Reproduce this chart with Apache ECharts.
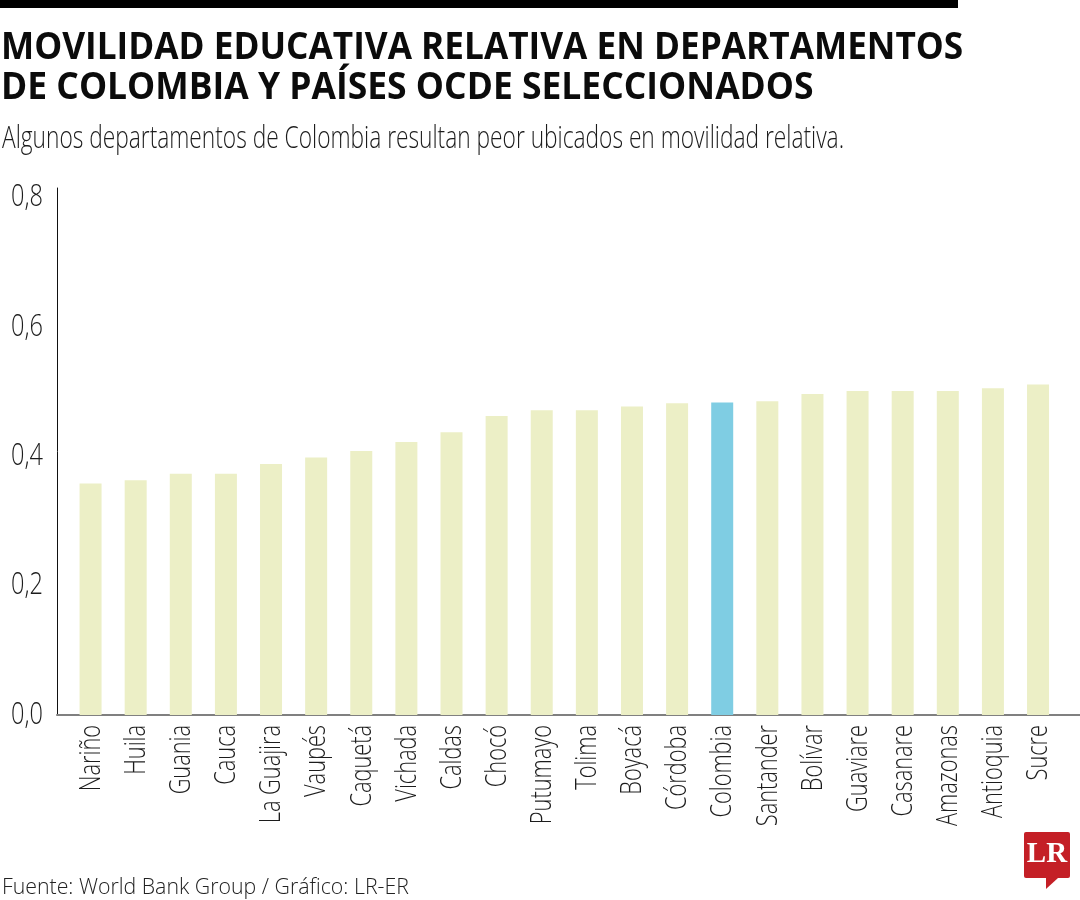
<!DOCTYPE html>
<html><head><meta charset="utf-8">
<style>html,body{margin:0;padding:0;background:#fff}#c{width:1080px;height:900px}</style>
<script src="https://cdn.jsdelivr.net/npm/echarts@6/dist/echarts.min.js"></script></head>
<body><div id="c"></div>
<script>
const categories = ['Nariño','Huila','Guania','Cauca','La Guajira','Vaupés','Caquetá','Vichada','Caldas','Chocó','Putumayo','Tolima','Boyacá','Córdoba','Colombia','Santander','Bolívar','Guaviare','Casanare','Amazonas','Antioquia','Sucre'];
const values = [0.358,0.363,0.373,0.373,0.388,0.398,0.408,0.422,0.437,0.462,0.471,0.471,0.477,0.482,0.483,0.485,0.496,0.501,0.501,0.501,0.505,0.511];
const highlighted = 'Colombia';
const yTicks = [0,0.2,0.4,0.6,0.8];
const yTickLabels = ['0,0','0,2','0,4','0,6','0,8'];
const titleLines = ['MOVILIDAD EDUCATIVA RELATIVA EN DEPARTAMENTOS','DE COLOMBIA Y PAÍSES OCDE SELECCIONADOS'];
const subtitleText = 'Algunos departamentos de Colombia resultan peor ubicados en movilidad relativa.';
const sourceText = 'Fuente: World Bank Group / Gráfico: LR-ER';
const lightFont = '300 29px "Open Sans",sans-serif';
const yMax = 0.8146;
const chart = echarts.init(document.getElementById('c'),null,{renderer:'canvas'});
function textEl(text,x,y,font,fill,scaleX){
  return {type:'text',x:x,y:y,scaleX:scaleX,style:{text:text,x:0,y:0,font:font,fill:fill,align:'left',verticalAlign:'top'}};
}
chart.setOption({
  animation:false,
  backgroundColor:'#fff',
  grid:[
    {left:57,top:188,width:1023,height:527},
    {left:68,top:188,width:992.6,height:527}
  ],
  xAxis:[
    {gridIndex:0,type:'value',min:0,max:1,axisLine:{show:true,onZero:false,lineStyle:{color:'#808080',width:2}},axisTick:{show:false},axisLabel:{show:false},splitLine:{show:false}},
    {gridIndex:1,type:'category',data:categories,axisLine:{show:false},axisTick:{show:false},axisLabel:{show:false}}
  ],
  yAxis:[
    {gridIndex:0,type:'value',min:0,max:yMax,interval:0.2,axisLine:{show:true,lineStyle:{color:'#111',width:1}},axisTick:{show:false},splitLine:{show:false},axisLabel:{show:false}},
    {gridIndex:1,type:'value',min:0,max:yMax,show:false}
  ],
  series:[
    {type:'bar',xAxisIndex:1,yAxisIndex:1,barWidth:22,
     data:values.map((v,i)=>({value:v,itemStyle:{color:categories[i]===highlighted?'#7fcde3':'#ecefc6'}}))},
    {type:'custom',xAxisIndex:1,yAxisIndex:1,silent:true,clip:false,data:categories.map((c,i)=>[i,0]),
     encode:{x:0,y:1},
     renderItem:(p,api)=>{const c=api.coord([api.value(0),0]);
       return {type:'text',x:c[0]+1,y:c[1]+10,rotation:Math.PI/2,scaleX:0.75,
         style:{text:categories[p.dataIndex],x:0,y:0,font:lightFont,fill:'#1c1c1c',align:'right',verticalAlign:'middle'}};}},
    {type:'custom',xAxisIndex:0,yAxisIndex:0,silent:true,clip:false,data:yTicks.map(t=>[0,t]),
     encode:{x:0,y:1},
     renderItem:(p,api)=>{const c=api.coord([0,api.value(1)]);
       return {type:'text',x:c[0]-14,y:c[1],scaleX:0.76,
         style:{text:yTickLabels[p.dataIndex],x:0,y:0,font:'300 31px "Open Sans",sans-serif',fill:'#1c1c1c',align:'right',verticalAlign:'middle'}};}}
  ],
  graphic:[
    {type:'rect',x:0,y:0,shape:{width:958,height:8},style:{fill:'#000'}},
    textEl(titleLines[0],1,30,'700 37px "Open Sans",sans-serif','#0b0b0b',0.951),
    textEl(titleLines[1],1,70,'700 37px "Open Sans",sans-serif','#0b0b0b',0.958),
    textEl(subtitleText,2,124,'300 31px "Open Sans",sans-serif','#1c1c1c',0.733),
    textEl(sourceText,2,877,'300 21.3px "Open Sans",sans-serif','#222',1),
    {type:'group',x:1024,y:832,children:[
      {type:'rect',shape:{x:0,y:0,width:46,height:46,r:2},style:{fill:'#c41f26'}},
      {type:'polygon',shape:{points:[[22,46],[34,46],[22,57]]},style:{fill:'#c41f26'}},
      {type:'text',style:{x:23,y:23,text:'LR',align:'center',verticalAlign:'middle',fill:'#fff',font:'700 29px "Liberation Serif",serif'}}
    ]}
  ]
});
</script></body></html>
